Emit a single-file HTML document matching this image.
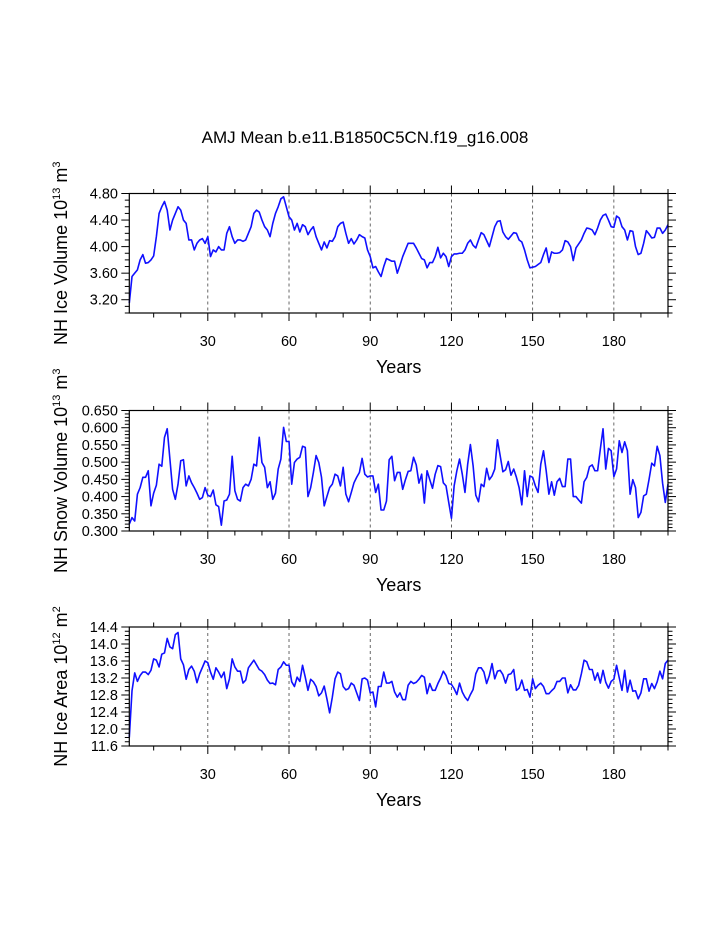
<!DOCTYPE html>
<html><head><meta charset="utf-8"><style>
html,body{margin:0;padding:0;background:#fff;}
svg{display:block;font-family:"Liberation Sans",Arial,sans-serif;}
</style></head><body>
<svg id="chart" width="723" height="935" viewBox="0 0 723 935">
<text x="365" y="143" font-size="17" text-anchor="middle">AMJ Mean b.e11.B1850C5CN.f19_g16.008</text>
</svg>
<script>
const years = Array.from({length:200},(_,i)=>i+1);
const iceVolume = [3.15,3.55,3.6,3.65,3.8,3.88,3.75,3.76,3.8,3.86,4.15,4.5,4.6,4.68,4.55,4.25,4.4,4.5,4.6,4.55,4.4,4.35,4.1,4.1,3.95,4.05,4.1,4.12,4.05,4.15,3.85,3.95,3.92,4.0,3.95,3.95,4.2,4.3,4.15,4.05,4.1,4.1,4.08,4.1,4.2,4.3,4.5,4.55,4.52,4.4,4.3,4.25,4.15,4.35,4.5,4.6,4.72,4.75,4.6,4.45,4.4,4.25,4.35,4.22,4.33,4.30,4.18,4.25,4.30,4.15,4.05,3.95,4.07,3.98,4.09,4.08,4.15,4.30,4.35,4.37,4.20,4.05,4.12,4.04,4.10,4.18,4.15,4.13,3.95,3.85,3.68,3.70,3.62,3.55,3.70,3.82,3.80,3.78,3.78,3.60,3.72,3.85,3.95,4.05,4.05,4.05,3.98,3.90,3.82,3.80,3.68,3.76,3.76,3.85,3.99,3.83,3.90,3.85,3.70,3.85,3.89,3.89,3.90,3.90,3.95,4.05,4.10,4.02,3.98,4.10,4.21,4.18,4.09,4.00,4.15,4.30,4.38,4.39,4.22,4.15,4.11,4.16,4.21,4.20,4.10,4.07,3.95,3.80,3.68,3.69,3.70,3.73,3.76,3.88,3.98,3.76,3.92,3.90,3.90,3.91,3.95,4.09,4.07,4.00,3.79,3.98,4.04,4.10,4.20,4.28,4.27,4.25,4.18,4.28,4.40,4.47,4.49,4.40,4.30,4.29,4.46,4.43,4.30,4.25,4.10,4.24,4.23,4.00,3.88,3.90,4.05,4.24,4.19,4.13,4.14,4.28,4.28,4.20,4.25,4.33];
const snowVolume = [0.32,0.339,0.329,0.407,0.426,0.456,0.456,0.475,0.373,0.41,0.433,0.494,0.488,0.572,0.597,0.509,0.421,0.392,0.436,0.504,0.507,0.431,0.46,0.44,0.426,0.41,0.392,0.397,0.426,0.404,0.40,0.419,0.376,0.371,0.317,0.387,0.39,0.407,0.517,0.417,0.392,0.387,0.426,0.436,0.431,0.45,0.494,0.489,0.572,0.499,0.485,0.426,0.443,0.392,0.41,0.48,0.509,0.601,0.56,0.56,0.436,0.499,0.509,0.514,0.546,0.543,0.40,0.426,0.47,0.519,0.499,0.456,0.373,0.40,0.426,0.436,0.465,0.46,0.431,0.485,0.407,0.385,0.412,0.44,0.456,0.47,0.511,0.465,0.457,0.46,0.46,0.412,0.436,0.361,0.361,0.387,0.507,0.517,0.446,0.47,0.47,0.421,0.449,0.473,0.475,0.514,0.492,0.439,0.465,0.381,0.475,0.449,0.424,0.465,0.49,0.487,0.44,0.431,0.383,0.337,0.431,0.475,0.509,0.465,0.412,0.494,0.551,0.49,0.404,0.385,0.436,0.429,0.482,0.449,0.46,0.48,0.565,0.519,0.472,0.478,0.502,0.462,0.48,0.456,0.426,0.376,0.475,0.40,0.46,0.456,0.431,0.412,0.494,0.533,0.475,0.407,0.443,0.404,0.443,0.453,0.429,0.429,0.509,0.509,0.40,0.40,0.39,0.381,0.443,0.456,0.487,0.492,0.475,0.475,0.538,0.597,0.48,0.54,0.533,0.458,0.48,0.562,0.528,0.559,0.533,0.407,0.449,0.426,0.339,0.354,0.402,0.407,0.45,0.497,0.489,0.546,0.519,0.439,0.383,0.436];
const iceArea = [11.8,12.9,13.32,13.12,13.26,13.34,13.34,13.28,13.38,13.65,13.62,13.46,13.76,13.79,14.13,13.93,13.89,14.22,14.27,13.65,13.51,13.17,13.40,13.48,13.36,13.09,13.30,13.45,13.60,13.56,13.34,13.17,13.44,13.34,13.21,13.34,12.95,13.18,13.65,13.46,13.36,13.36,13.08,13.15,13.44,13.53,13.62,13.51,13.40,13.36,13.28,13.15,13.07,13.08,13.04,13.40,13.46,13.58,13.50,13.50,13.11,13.0,13.22,13.12,13.50,13.22,12.91,13.17,13.11,13.0,12.78,12.85,13.01,12.71,12.38,12.75,13.18,13.34,13.30,13.0,12.92,12.95,13.08,13.03,12.85,12.67,13.18,13.2,13.15,12.85,12.87,12.52,13.0,13.0,13.34,13.08,13.08,13.12,12.87,12.75,12.85,12.69,12.69,13.03,13.12,13.07,13.1,13.17,13.26,13.22,12.83,13.07,12.91,12.91,13.07,13.2,13.36,13.26,13.07,13.05,12.95,12.81,13.08,12.87,12.75,12.67,12.81,12.93,13.30,13.44,13.44,13.34,13.07,13.26,13.54,13.18,13.36,13.38,13.28,13.08,13.28,13.30,13.40,12.91,12.96,13.15,12.91,12.93,12.75,13.18,12.95,13.03,13.08,13.0,12.83,12.83,12.90,12.96,13.12,13.12,13.2,13.2,12.85,13.04,12.92,12.92,13.03,13.30,13.62,13.58,13.40,13.40,13.15,13.32,13.08,13.38,13.10,12.96,13.12,13.17,13.50,13.2,12.91,13.38,12.87,13.15,12.89,12.9,12.71,12.85,13.18,13.18,12.89,13.07,12.95,13.11,13.36,13.18,13.54,13.62];
const xTickLabels = [30,60,90,120,150,180];
const iceVolTicks = [3.2,3.6,4.0,4.4,4.8];
const snowTicks = [0.30,0.35,0.40,0.45,0.50,0.55,0.60,0.65];
const areaTicks = [11.6,12.0,12.4,12.8,13.2,13.6,14.0,14.4];

const NS='http://www.w3.org/2000/svg';
const svg=document.getElementById('chart');
function mk(tag,attrs,parent){const e=document.createElementNS(NS,tag);for(const k in attrs)e.setAttribute(k,attrs[k]);(parent||svg).appendChild(e);return e;}

const X0=129.3,X1=668;
const panels=[
 {name:'ice-volume',data:iceVolume,ticks:iceVolTicks,minor:0.1,dec:2,ymin:3.0,ymax:4.8,top:193.5,bot:313,title:['NH Ice Volume 10','13',' m','3']},
 {name:'snow-volume',data:snowVolume,ticks:snowTicks,minor:0.01,dec:3,ymin:0.3,ymax:0.65,top:410.5,bot:531,title:['NH Snow Volume 10','13',' m','3']},
 {name:'ice-area',data:iceArea,ticks:areaTicks,minor:0.1,dec:1,ymin:11.6,ymax:14.4,top:627,bot:746,title:['NH Ice Area 10','12',' m','2']}
];
function xs(v){return X0+(v-1)/(199)*(X1-X0);}

panels.forEach(p=>{
 const g=mk('g',{});
 
 
 const ys=v=>p.bot-(v-p.ymin)/(p.ymax-p.ymin)*(p.bot-p.top);
 xTickLabels.forEach(t=>{const l=mk('line',{x1:xs(t),x2:xs(t),y1:p.top,y2:p.bot,stroke:'#444','stroke-width':0.8,'stroke-dasharray':'3,3'},g);
  
  });
 let d='';p.data.forEach((v,i)=>{d+=(i?'L':'M')+xs(years[i]).toFixed(2)+','+ys(v).toFixed(2);});
 const path=mk('path',{d:d,fill:'none',stroke:'#1010ff','stroke-width':1.6,'stroke-linejoin':'round'},g);
 
 
 const fr=mk('rect',{x:X0,y:p.top,width:X1-X0,height:p.bot-p.top,fill:'none',stroke:'#000','stroke-width':1.2},g);
 
 
 for(let t=10;t<=200;t+=10){const L=(t%30===0)?8:4.5;
  mk('line',{x1:xs(t),x2:xs(t),y1:p.bot,y2:p.bot+L,stroke:'#000','stroke-width':1},g);
  mk('line',{x1:xs(t),x2:xs(t),y1:p.top,y2:p.top-L,stroke:'#000','stroke-width':1},g);}
 xTickLabels.forEach(t=>{const tx=mk('text',{x:xs(t),y:p.bot+33,'font-size':14.5,'text-anchor':'middle'},g);tx.textContent=t;
  
  });
 const yl=mk('text',{x:(X0+X1)/2,y:p.bot+60,'font-size':18,'text-anchor':'middle'},g);yl.textContent='Years';
 
 
 const n=Math.round((p.ymax-p.ymin)/p.minor);
 for(let i=0;i<=n;i++){const v=p.ymin+i*p.minor;
  const maj=p.ticks.some(t=>Math.abs(t-v)<1e-6);const L=maj?8:4.5;
  mk('line',{x1:X0,x2:X0-L,y1:ys(v),y2:ys(v),stroke:'#000','stroke-width':1},g);
  mk('line',{x1:X1,x2:X1+L,y1:ys(v),y2:ys(v),stroke:'#000','stroke-width':1},g);}
 p.ticks.forEach(t=>{const tx=mk('text',{x:118,y:ys(t)+5,'font-size':14.5,'text-anchor':'end'},g);tx.textContent=t.toFixed(p.dec);
  
  });
 const cy=(p.top+p.bot)/2;
 const tt=mk('text',{x:0,y:0,'font-size':18,'text-anchor':'middle',transform:`translate(67,${cy}) rotate(-90)`},g);
 
 
 const s1=mk('tspan',{},tt);s1.textContent=p.title[0];
 const s2=mk('tspan',{dy:-7,'font-size':11},tt);s2.textContent=p.title[1];
 const s3=mk('tspan',{dy:7},tt);s3.textContent=p.title[2];
 const s4=mk('tspan',{dy:-7,'font-size':11},tt);s4.textContent=p.title[3];
});
</script>
</body></html>
